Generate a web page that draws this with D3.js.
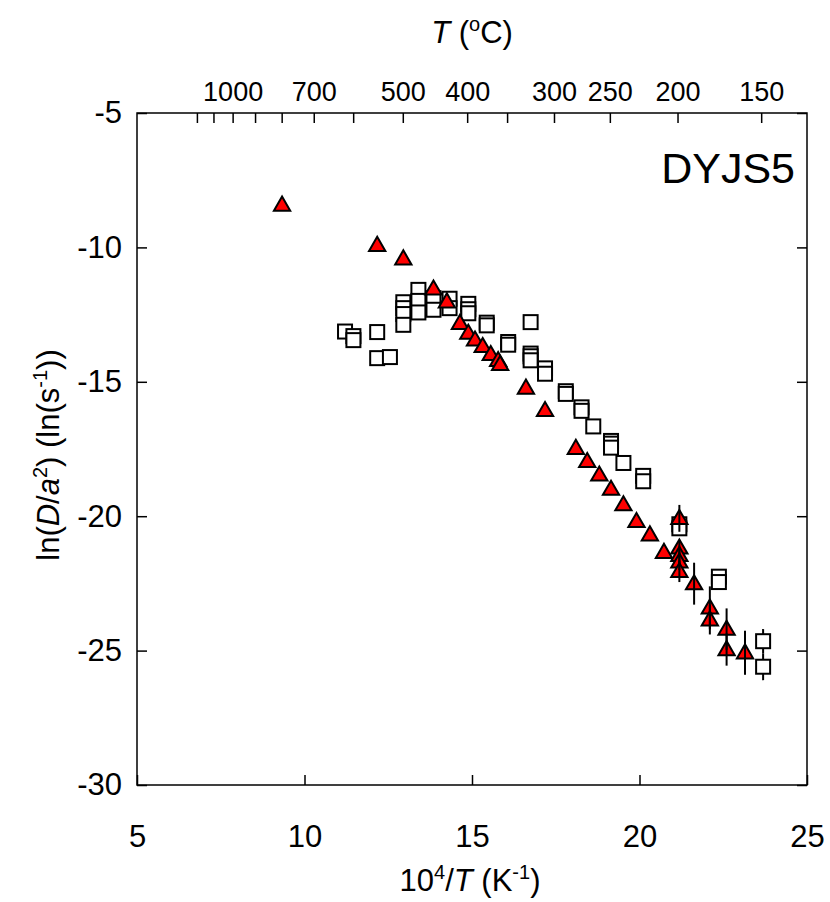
<!DOCTYPE html>
<html>
<head>
<meta charset="utf-8">
<script src="https://cdn.jsdelivr.net/npm/d3@7"></script>
<style>
    body{ margin:0; background:#fff; }
    svg text{ font-family:"Liberation Sans", Arial, sans-serif; fill:#000; }
    .axis path{ display:none; }
    .axis line{ stroke:#000; stroke-width:1.5px; }
</style>
</head>
<body>
<svg id="chart" width="830" height="902"></svg>
<script>
// open squares: 10^4/T and ln(D/a^2)
var sqX = [11.21, 11.46, 11.46, 12.17, 12.17, 12.55,
    12.95, 12.95, 12.95, 12.95, 13.40, 13.40, 13.40, 13.85, 13.85,
    14.33, 14.33, 14.89, 14.89, 14.89, 15.44, 15.44, 16.75,
    16.08, 16.08, 16.75, 16.75, 16.75, 17.18, 17.18, 17.80, 17.80,
    18.27, 18.27, 18.62, 19.15, 19.15, 19.15, 19.52, 20.11, 20.11,
    21.19, 21.19, 22.37, 22.37, 23.69, 23.69];
var sqY = [-13.13, -13.30, -13.45, -13.15, -14.12, -14.08,
    -12.04, -12.26, -12.48, -12.88, -11.58, -11.99, -12.42, -11.89, -12.32,
    -11.91, -12.26, -12.10, -12.30, -12.45, -12.80, -12.90, -12.78,
    -13.52, -13.62, -13.95, -14.05, -14.20, -14.50, -14.70, -15.35, -15.45,
    -15.95, -16.08, -16.66, -17.20, -17.30, -17.45, -18.02, -18.50, -18.70,
    -20.30, -20.45, -22.25, -22.45, -24.65, -25.60];
var sqErr = [0, 0, 0, 0, 0, 0,
    0, 0, 0, 0, 0, 0, 0, 0, 0,
    0, 0, 0, 0, 0, 0, 0, 0,
    0, 0, 0, 0, 0, 0, 0, 0, 0,
    0, 0, 0, 0, 0, 0, 0, 0, 0,
    0.15, 0.15, 0.2, 0.2, 0.45, 0.5];

// red triangles
var triX = [9.33, 12.17, 12.95, 13.85, 14.25,
    14.64, 14.89, 15.09, 15.32, 15.56, 15.78, 15.84,
    16.61, 17.18, 18.10, 18.44, 18.80, 19.15, 19.52, 19.91, 20.31, 20.73,
    21.19, 21.19, 21.19, 21.19, 21.19,
    21.63, 22.10, 22.10, 22.60, 22.60, 23.15];
var triY = [-8.42, -9.92, -10.42, -11.54, -12.02,
    -12.82, -13.19, -13.44, -13.68, -13.98, -14.20, -14.35,
    -15.23, -16.06, -17.47, -17.96, -18.46, -18.99, -19.57, -20.19, -20.69, -21.34,
    -20.08, -21.18, -21.45, -21.70, -22.05,
    -22.51, -23.41, -23.85, -24.20, -24.96, -25.08];
var triErr = [0, 0, 0, 0, 0,
    0, 0, 0, 0, 0, 0, 0,
    0, 0, 0, 0, 0, 0, 0, 0, 0, 0,
    0.5, 0.3, 0.3, 0.3, 0.4,
    0.78, 0.8, 0.55, 0.77, 0.6, 0.82];

var xTicks = [5, 10, 15, 20, 25];
var yTicks = [-5, -10, -15, -20, -25, -30];
var tempTicks = [1200, 1100, 1000, 900, 800, 700, 600, 500, 400, 350, 300, 250, 200, 150];
var tempLabels = [1000, 700, 500, 400, 300, 250, 200, 150];

var margin = {top:113, right:23, bottom:117, left:137};
var width = 830 - margin.left - margin.right;
var height = 902 - margin.top - margin.bottom;

var svg = d3.select("#chart");
var g = svg.append("g")
    .attr("transform", "translate(" + margin.left + "," + margin.top + ")");

var x = d3.scaleLinear().domain([5, 25]).range([0, width]);
var y = d3.scaleLinear().domain([-30, -5]).range([height, 0]);

function invT(c){ return 1e4 / (c + 273.15); }
function plain(v){ return String(v); }

// axes
g.append("g").attr("class", "axis")
    .attr("transform", "translate(0," + height + ")")
    .call(d3.axisBottom(x).tickValues(xTicks).tickSize(-10).tickPadding(40).tickFormat(plain))
    .selectAll("text").style("font-size", "31px");

g.append("g").attr("class", "axis")
    .call(d3.axisLeft(y).tickValues(yTicks).tickSize(-10).tickPadding(15).tickFormat(plain))
    .selectAll("text").style("font-size", "31px");

g.append("g").attr("class", "axis")
    .attr("transform", "translate(" + width + ",0)")
    .call(d3.axisRight(y).tickValues(yTicks).tickSize(-10).tickFormat(""));

// upper axis: temperature in C, placed at 10^4/T(K)
var topAx = g.append("g").attr("class", "axis")
    .call(d3.axisTop(x)
        .tickValues(tempTicks.map(invT)).tickSize(-10).tickPadding(12)
        .tickFormat(function(v){
            var c = Math.round(1e4 / v - 273.15);
            return tempLabels.indexOf(c) >= 0 ? c : "";
        }));
topAx.selectAll("text").style("font-size", "27px");

g.append("rect")
    .attr("width", width).attr("height", height)
    .attr("fill", "none").attr("stroke", "#000").attr("stroke-width", 1.5);

// squares + their error bars
var sq = sqX.map(function(v, i){ return {x:v, y:sqY[i], e:sqErr[i]}; });
var tri = triX.map(function(v, i){ return {x:v, y:triY[i], e:triErr[i]}; });

g.append("g").selectAll("line")
    .data(sq.filter(function(d){ return d.e > 0; }))
    .enter().append("line")
    .attr("x1", function(d){ return x(d.x); })
    .attr("x2", function(d){ return x(d.x); })
    .attr("y1", function(d){ return y(d.y - d.e); })
    .attr("y2", function(d){ return y(d.y + d.e); })
    .attr("stroke", "#000").attr("stroke-width", 2);

var s = 14;
g.append("g").selectAll("rect")
    .data(sq)
    .enter().append("rect")
    .attr("x", function(d){ return x(d.x) - s/2; })
    .attr("y", function(d){ return y(d.y) - s/2; })
    .attr("width", s).attr("height", s)
    .attr("fill", "#fff").attr("stroke", "#000").attr("stroke-width", 2);

var tri_sym = d3.symbol().type(d3.symbolTriangle).size(115);
g.append("g").selectAll("path")
    .data(tri)
    .enter().append("path")
    .attr("d", tri_sym)
    .attr("transform", function(d){ return "translate(" + x(d.x) + "," + (y(d.y) + 1) + ")"; })
    .attr("fill", "#f00").attr("stroke", "#000").attr("stroke-width", 2)
    .attr("stroke-linejoin", "miter");

g.append("g").selectAll("line")
    .data(tri.filter(function(d){ return d.e > 0; }))
    .enter().append("line")
    .attr("x1", function(d){ return x(d.x); })
    .attr("x2", function(d){ return x(d.x); })
    .attr("y1", function(d){ return y(d.y - d.e); })
    .attr("y2", function(d){ return y(d.y + d.e); })
    .attr("stroke", "#000").attr("stroke-width", 2);

// labels
g.append("text")
    .attr("x", width - 12).attr("y", 70)
    .attr("text-anchor", "end")
    .style("font-size", "43px")
    .text("DYJS5");

var xl = svg.append("text")
    .attr("x", 470).attr("y", 891)
    .attr("text-anchor", "middle")
    .style("font-size", "31px");
xl.append("tspan").text("10");
xl.append("tspan").attr("dy", -12).style("font-size", "20px").text("4");
xl.append("tspan").attr("dy", 12).text("/");
xl.append("tspan").style("font-style", "italic").text("T");
xl.append("tspan").text(" (K");
xl.append("tspan").attr("dy", -12).style("font-size", "20px").text("-1");
xl.append("tspan").attr("dy", 12).text(")");

var tl = svg.append("text")
    .attr("x", 472).attr("y", 43)
    .attr("text-anchor", "middle")
    .style("font-size", "31px");
tl.append("tspan").style("font-style", "italic").text("T");
tl.append("tspan").text(" (");
tl.append("tspan").attr("dy", -12).style("font-size", "20px").text("o");
tl.append("tspan").attr("dy", 12).text("C)");

var yl = svg.append("text")
    .attr("transform", "translate(59,455) rotate(-90)")
    .attr("text-anchor", "middle")
    .style("font-size", "31px");
yl.append("tspan").text("ln(");
yl.append("tspan").style("font-style", "italic").text("D");
yl.append("tspan").text("/");
yl.append("tspan").style("font-style", "italic").text("a");
yl.append("tspan").attr("dy", -12).style("font-size", "20px").text("2");
yl.append("tspan").attr("dy", 12).text(") (ln(s");
yl.append("tspan").attr("dy", -12).style("font-size", "20px").text("-1");
yl.append("tspan").attr("dy", 12).text("))");
</script>
</body>
</html>
